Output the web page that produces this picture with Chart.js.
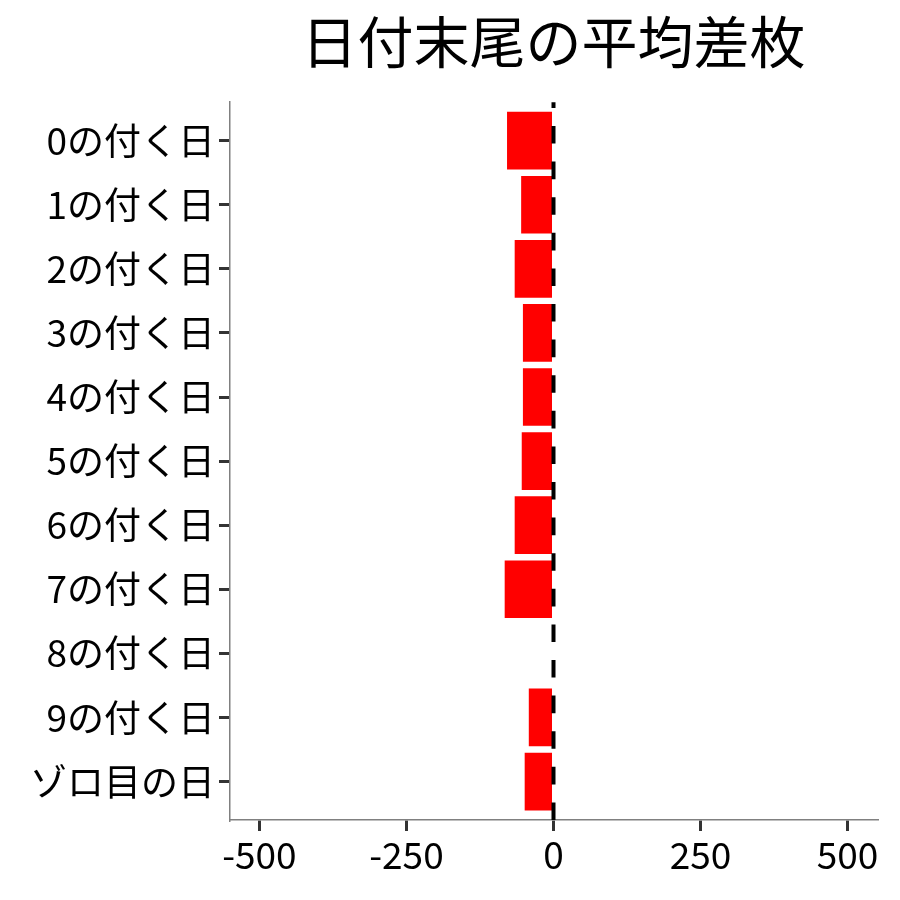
<!DOCTYPE html>
<html>
<head>
<meta charset="utf-8">
<script src="https://cdn.jsdelivr.net/npm/chart.js@4/dist/chart.umd.min.js"></script>
<style>
  html, body { margin: 0; padding: 0; background: #ffffff; }
  #wrap { width: 900px; height: 900px; position: relative; }
</style>
</head>
<body>
<div id="wrap"><canvas id="c"></canvas></div>
<script>
// ---- data ----
const chartTitle = '日付末尾の平均差枚';
const categories = ['0の付く日', '1の付く日', '2の付く日', '3の付く日', '4の付く日', '5の付く日', '6の付く日', '7の付く日', '8の付く日', '9の付く日', 'ゾロ目の日'];
const avgDiff = [-79, -55, -66, -52, -52, -54, -66, -83, 0, -42, -49];
const xTickValues = [-500, -250, 0, 250, 500];
const xMin = -550;
const xMax = 550;
const refValue = 0;

const FONT = "'Noto Sans CJK JP', 'Noto Sans', sans-serif";

const refLinePlugin = {
  id: 'refLine',
  afterDatasetsDraw(chart) {
    const xs = chart.scales.x;
    const area = chart.chartArea;
    const px = xs.getPixelForValue(refValue);
    const ctx = chart.ctx;
    ctx.save();
    ctx.strokeStyle = '#000000';
    ctx.lineWidth = 4;
    ctx.setLineDash([17.6, 18]);
    ctx.beginPath();
    ctx.moveTo(px, area.bottom);
    ctx.lineTo(px, area.top);
    ctx.stroke();
    ctx.restore();
  }
};

new Chart(document.getElementById('c'), {
  type: 'bar',
  data: {
    datasets: [{
      data: avgDiff.map((v, i) => ({ x: v, y: i })),
      backgroundColor: '#FF0000',
      borderWidth: 0,
      barPercentage: 0.9,
      categoryPercentage: 1.0
    }]
  },
  options: {
    indexAxis: 'y',
    responsive: true,
    maintainAspectRatio: false,
    animation: false,
    layout: { padding: { top: 0, right: 23, bottom: 0, left: 0 } },
    plugins: {
      legend: { display: false },
      tooltip: { enabled: false },
      title: {
        display: true,
        text: chartTitle,
        fullSize: false,
        align: 'center',
        color: '#000000',
        font: { family: FONT, size: 56, weight: 'normal', lineHeight: 1.2 },
        padding: { top: 8, bottom: 27 }
      }
    },
    scales: {
      x: {
        type: 'linear',
        min: xMin,
        max: xMax,
        afterBuildTicks: (s) => { s.ticks = xTickValues.map(v => ({ value: v })); },
        afterFit: (s) => { s.height = 80; },
        grid: { drawOnChartArea: false, drawTicks: true, tickLength: 11, color: '#333333', lineWidth: 3 },
        border: { display: true, color: '#808080', width: 1.5 },
        ticks: {
          color: '#000000',
          font: { family: FONT, size: 37 },
          padding: 2,
          maxRotation: 0,
          callback: (v) => String(v)
        }
      },
      y: {
        type: 'linear',
        reverse: true,
        offset: false,
        min: -0.6,
        max: categories.length - 1 + 0.6,
        afterBuildTicks: (s) => { s.ticks = categories.map((c, i) => ({ value: i })); },
        afterFit: (s) => { s.width = 230; },
        grid: { offset: false, drawOnChartArea: false, drawTicks: true, tickLength: 11, color: '#333333', lineWidth: 3 },
        border: { display: true, color: '#808080', width: 1.5 },
        ticks: {
          color: '#000000',
          font: { family: FONT, size: 37 },
          padding: 4,
          autoSkip: false,
          callback: (v) => categories[v]
        }
      }
    }
  },
  plugins: [refLinePlugin]
});
</script>
</body>
</html>
